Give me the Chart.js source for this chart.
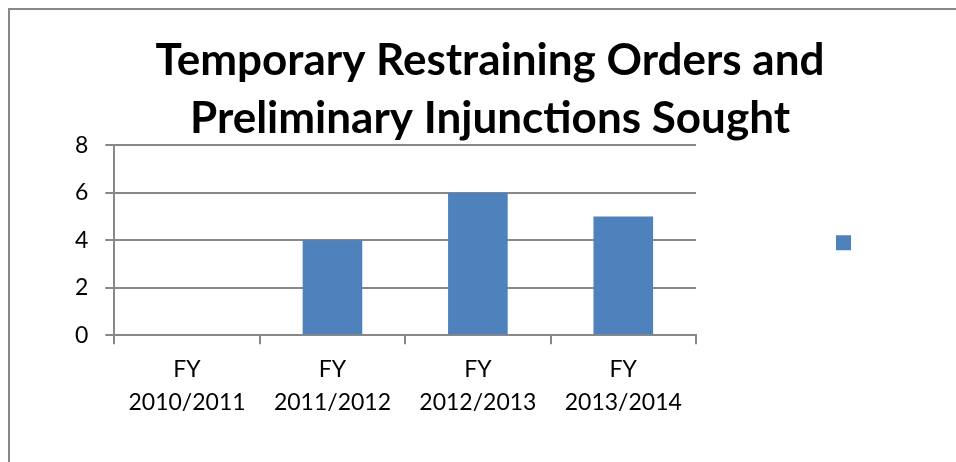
<!DOCTYPE html>
<html>
<head>
<meta charset="utf-8">
<script src="https://cdn.jsdelivr.net/npm/chart.js@4.4.1/dist/chart.umd.min.js"></script>
<style>
  body { margin: 0; background: #fff; }
  #wrap { position: relative; width: 956px; height: 462px; overflow: hidden; }
  #frame { position: absolute; left: 8px; top: 8px; width: 960px; height: 470px;
           border-left: 2px solid #888; border-top: 2px solid #888; pointer-events: none; }
</style>
</head>
<body>
<div id="wrap">
  <canvas id="trChart" width="956" height="462"></canvas>
  <div id="frame"></div>
</div>
<script>
// fiscal years (x-axis) and number of TROs / preliminary injunctions sought
const years = [["FY", "2010/2011"], ["FY", "2011/2012"], ["FY", "2012/2013"], ["FY", "2013/2014"]];
const sought = [0, 4, 6, 5];
const yMax = 8;
const yStep = 2;

const gridGray = "#888888";
const tickFont = {family: "Lato", size: 23, lineHeight: 1.43};

new Chart("trChart", {
  type: "bar",
  data: {
    labels: years,
    datasets: [{
      label: "",
      data: sought,
      backgroundColor: "#4F81BD",
      barPercentage: 0.41,
      categoryPercentage: 1
    }]
  },
  options: {
    responsive: false,
    animation: false,
    layout: {padding: {left: 58, right: 34, top: 32, bottom: 34}},
    plugins: {
      title: {
        display: true,
        text: ["Temporary Restraining Orders and", "Preliminary Injunctions Sought"],
        color: "#000",
        font: {family: "Lato", size: 44, weight: "bold", lineHeight: 1.32},
        padding: {top: 0, bottom: -3}
      },
      // legend has an empty label, only the blue square shows
      legend: {
        position: "right",
        fullSize: false,
        maxWidth: 226,
        title: {display: true, text: "", font: {size: 5, lineHeight: 1}, padding: 0},
        labels: {boxWidth: 15, boxHeight: 15, padding: 140, font: {size: 130}}
      },
      tooltip: {enabled: false}
    },
    scales: {
      x: {
        grid: {display: true, drawOnChartArea: false, drawTicks: true, tickLength: 9, color: gridGray, lineWidth: 2},
        border: {display: true, color: gridGray, width: 2},
        ticks: {color: "#000", font: tickFont, padding: 9}
      },
      y: {
        min: 0,
        max: yMax,
        grid: {color: gridGray, lineWidth: 2, tickLength: 9},
        border: {display: true, color: gridGray, width: 2},
        ticks: {color: "#000", font: tickFont, padding: 17, stepSize: yStep}
      }
    }
  }
});
</script>
</body>
</html>
